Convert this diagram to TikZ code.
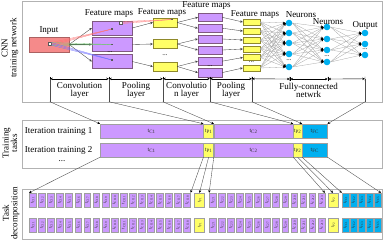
\documentclass[tikz,border=0pt]{standalone}
\usepackage{fontspec}
\usepackage{graphicx}
\setmainfont{Liberation Serif}
\usepackage{tikz}
\usetikzlibrary{positioning,arrows.meta,calc}

\definecolor{convpurple}{HTML}{CC99FF}
\definecolor{poolyellow}{HTML}{FFFF66}
\definecolor{fcblue}{HTML}{00B0F0}
\definecolor{inred}{HTML}{F58A8A}

\begin{document}
\begin{tikzpicture}[
  x=1pt, y=-1pt,
  font=\fontsize{9}{8.6}\selectfont,
  >={Stealth[length=2.6pt,width=2.4pt]},
  panel/.style={draw=gray!60, line width=0.7pt, inner sep=0pt},
  sidelab/.style={rotate=90, align=center},
  cmap/.style={draw=gray!70!violet, fill=convpurple, line width=0.4pt, inner sep=0pt},
  pmap/.style={draw=olive!70!gray, fill=poolyellow, line width=0.4pt, inner sep=0pt},
  neuron/.style={circle, fill=fcblue, inner sep=0pt, minimum size=6.6pt},
  dotsq/.style={draw=gray!70!black, fill=white, inner sep=0pt, minimum size=3pt},
  pt/.style={fill=gray!70!black, inner sep=0pt, minimum size=1.4pt},
  dots/.style={inner sep=0pt, font=\fontsize{7}{7}\selectfont},
  link/.style={->, line width=0.35pt, black!75},
  mesh/.style={-{Stealth[length=2.6pt,width=2.4pt,black]}, line width=0.3pt, gray!70},
  feed/.style={-{Stealth[length=2.6pt,width=2.4pt,black]}, line width=0.35pt, gray!55!black},
  cell/.style={align=center, inner sep=0pt, minimum height=22.5pt},
  dim/.style={|<->|, line width=0.35pt},
  sep/.style={line width=0.4pt, gray!60!black},
  bar/.style={draw=gray!75, line width=0.4pt, inner sep=0pt, minimum height=14pt,
              text=black!80, font=\fontsize{6}{6}\selectfont},
  tcell/.style={draw=gray!75, line width=0.4pt, inner sep=0pt, minimum width=6.8pt,
                minimum height=14pt, text=black!80, font=\fontsize{4.6}{4.6}\selectfont},
]
\useasboundingbox (0,0) rectangle (383,242);

% panels
\node[panel, anchor=north west, minimum width=359.5pt, minimum height=101pt] (net) at (22,0.5) {};
\node[panel, anchor=north west, minimum width=359.5pt, minimum height=48pt] (tasks) at (22,120) {};
\node[panel, anchor=north west, minimum width=359.5pt, minimum height=50pt] (decomp) at (22,189) {};

\node[sidelab] (netlab) at (10,48) {CNN\\training network};
\node[sidelab] (tasklab) at (10,143) {Training\\tasks};
\node[sidelab] (declab) at (11,213) {Task\\decomposition};

% input
\node[draw=inred!70!black, fill=inred, line width=0.4pt, inner sep=0pt,
      minimum width=40pt, minimum height=15pt] (inp) at (49,44.5) {};
\node (inlab) at (49,31) {Input};
\node[dotsq] (insq) at (50,44) {};

% convolution 1
\foreach \y [count=\i] in {28,44.5,61.5}
  \node[cmap, minimum width=40pt, minimum height=14pt] (ca\i) at (112,\y) {};
\node[dots] (cadots) at (110,52.3) {...};
\node (fm1) at (109,14) {Feature maps};
\node[dotsq] (casq) at (121,22.5) {};
\node[pt] (cpt1) at (112,29) {};
\node[pt] (cpt2) at (112,44.5) {};
\node[pt] (cpt3) at (112,60) {};

% pooling 1
\foreach \y [count=\i] in {22.5,44,66.5}
  \node[pmap, minimum width=24pt, minimum height=9pt] (pa\i) at (165,\y) {};
\node[dots] (padots) at (165,55) {...};
\node (fm2) at (162,12.5) {Feature maps};
\node[pt] (ppt) at (172,19.5) {};

% convolution 2
\foreach \y [count=\i] in {17.3,28.2,39,50,61.2,72.6}
  \node[cmap, minimum width=24pt, minimum height=8.6pt] (cb\i) at (210,\y) {};
\node[dots] (cbdots) at (210,66.5) {...};
\node (fm3) at (206.5,6) {Feature maps};

% pooling 2
\foreach \y [count=\i] in {22,31,40,49,57.5,68}
  \node[pmap, minimum width=17pt, minimum height=6.2pt] (pb\i) at (251.5,\y) {};
\node[dots] (pbdots) at (251.5,62.6) {...};
\node (fm4) at (255,15) {Feature maps};

% fully-connected
\foreach \y [count=\i] in {23,33,43,54,67}
  \node[neuron] (na\i) at (289,\y) {};
\node[dots] (nadots) at (289,60.5) {...};
\node (nl1) at (301,15) {Neurons};
\foreach \y [count=\i] in {27,39,50,62}
  \node[neuron] (nb\i) at (327,\y) {};
\node[dots] (nbdots) at (327,56) {...};
\node (nl2) at (328,21.5) {Neurons};
\foreach \y [count=\i] in {33,44,55}
  \node[neuron] (no\i) at (365,\y) {};
\node[dots] (nodots) at (365,49.5) {...};
\node (outl) at (365,25) {Output};

% connections
\foreach \i in {1,2,3}
  \draw[link] (inp.east) -- (ca\i.west);
\foreach \c/\k in {red/1, green!60!black/2, blue/3}
  \foreach \d in {-1.4,0,1.4}
    \draw[\c!55, line width=0.3pt] ($(insq.east)+(0,\d)$) -- (cpt\k);
\foreach \d in {-1,0,1}
  \draw[red!50, line width=0.3pt] ($(casq.east)+(0,\d)$) -- (ppt);
\foreach \i in {1,2,3}
  \draw[link] (ca\i.east) -- (pa\i.west);
\foreach \i/\j in {1/1,1/2,2/3,2/4,3/5,3/6}
  \draw[link] (pa\i.east) -- (cb\j.west);
\foreach \i in {1,...,6}
  \draw[link] (cb\i.east) -- (pb\i.west);
\foreach \i in {1,...,6}
  \foreach \j in {1,...,5}
    \draw[mesh] (pb\i.east) -- (na\j.west);
\foreach \i in {1,...,5}
  \foreach \j in {1,...,4}
    \draw[mesh] (na\i.east) -- (nb\j.west);
\foreach \i in {1,...,4}
  \foreach \j in {1,2,3}
    \draw[mesh] (nb\i.east) -- (no\j.west);

% layer cells
\node[cell, minimum width=59pt] (lc1) at (79.5,90.25) {Convolution\\layer};
\node[cell, minimum width=54pt] (lc2) at (136,90.25) {Pooling\\layer};
\node[cell, minimum width=47pt] (lc3) at (186.5,90.25) {Convolutio\\n layer};
\node[cell, minimum width=42pt] (lc4) at (231,90.25) {Pooling\\layer};
\node[cell, minimum width=113pt] (lc5) at (308.5,90.25) {Fully-connected\\netwrk};
\coordinate (fcx1) at (290,79);
\coordinate (fcx2) at (328,79);

\foreach \n in {lc1,lc2,lc3,lc4}
  \draw[dim] (\n.north west) -- (\n.north east);
\draw[dim] (lc5.north west) -- (fcx1);
\draw[dim] (fcx1) -- (fcx2);
\draw[dim] (fcx2) -- (lc5.north east);
\foreach \n in {lc1,lc2,lc3,lc4,lc5}
  \draw[sep] (\n.north west) -- (\n.south west);
\draw[sep] (lc5.north east) -- (lc5.south east);

% training tasks
\node[anchor=east] (it1) at (96,131) {Iteration training 1};
\node[anchor=east] (it2) at (96,150) {Iteration training 2};
\node (itd) at (62,161) {...};

\foreach \r/\y in {a/131,b/150} {
  \node[bar, fill=convpurple, minimum width=103pt, anchor=west] (c1\r) at (100,\y) {t\textsubscript{C1}};
  \node[bar, fill=poolyellow, minimum width=10pt, right=0pt of c1\r] (p1\r) {t\textsubscript{P1}};
  \node[bar, fill=convpurple, minimum width=79pt, right=0pt of p1\r] (c2\r) {t\textsubscript{C2}};
  \node[bar, fill=poolyellow, minimum width=8.5pt, right=0pt of c2\r] (p2\r) {t\textsubscript{P2}};
  \node[bar, fill=fcblue, minimum width=25pt, right=0pt of p2\r] (fc\r) {t\textsubscript{FC}};
}

\draw[feed] (lc1.south west) -- (c1a.north west);
\draw[feed] (lc2.south west) -- (c1a.north east);
\draw[feed] (lc3.south west) -- (p1a.north east);
\draw[feed] (lc4.south west) -- (c2a.north east);
\draw[feed] (lc5.south west) -- (p2a.north east);
\draw[feed] (lc5.south east) -- (fca.north east);

% task decomposition
\foreach \r/\y in {a/200,b/225} {
  \foreach \i in {1,...,18}
    \node[tcell, fill=convpurple] (t\r\i) at ({32.7+(\i-1)*9.08},\y) {\rotatebox{90}{t\textsubscript{C1\i}}};
  \node[tcell, fill=poolyellow, minimum width=10pt] (tp\r1) at (199.5,\y) {\rotatebox{90}{t\textsubscript{P1}}};
  \foreach \i in {1,...,13}
    \node[tcell, fill=convpurple] (u\r\i) at ({212.7+(\i-1)*9.05},\y) {\rotatebox{90}{t\textsubscript{C2\i}}};
  \node[tcell, fill=poolyellow, minimum width=10pt] (tp\r2) at (333,\y) {\rotatebox{90}{t\textsubscript{P2}}};
  \foreach \i in {1,...,5}
    \node[tcell, fill=fcblue] (f\r\i) at ({345.4+(\i-1)*8},\y) {\rotatebox{90}{t\textsubscript{FC\i}}};
}

\draw[feed] (c1b.south west) -- (ta1.north west);
\draw[feed] (c1b.south east) -- (ta18.north east);
\draw[feed] (p1b.south) -- (tpa1.north);
\draw[feed] (p1b.south east) -- (ua1.north west);
\draw[feed] (c2b.south east) -- (ua13.north east);
\draw[feed] (p2b.south) -- (tpa2.north);
\draw[feed] (p2b.south east) -- (fa1.north west);
\draw[feed] (fcb.south east) -- (fa5.north east);
\end{tikzpicture}
\end{document}
